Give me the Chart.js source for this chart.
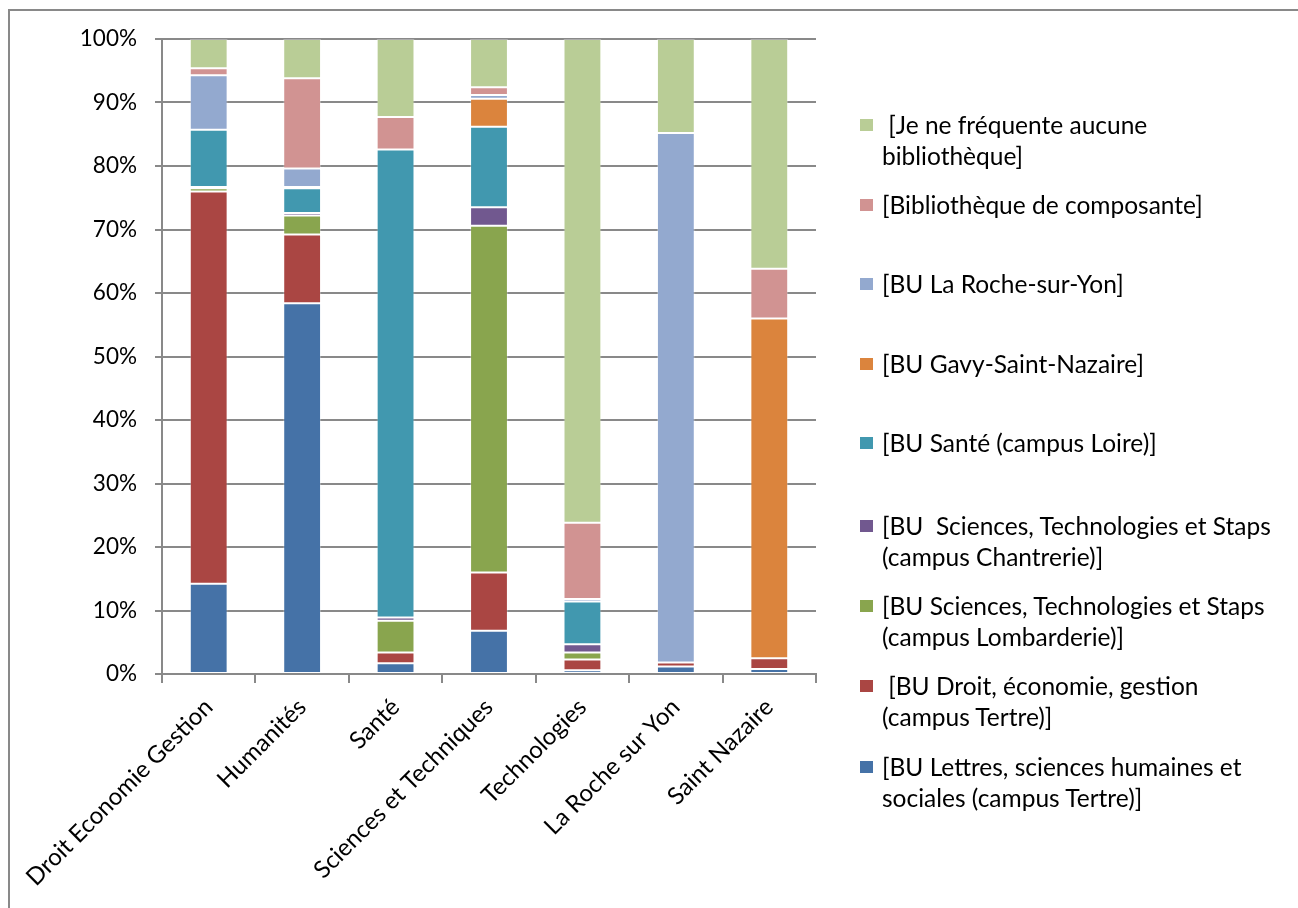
<!DOCTYPE html>
<html>
<head>
<meta charset="utf-8">
<script src="https://cdn.jsdelivr.net/npm/chart.js@4"></script>
<style>
  body { margin: 0; background: #fff; }
  #wrap { position: relative; width: 1298px; height: 908px; overflow: hidden; }
  #frame { position: absolute; left: 8px; top: 9px; right: -10px; bottom: -10px;
           border-top: 2px solid #898989; border-left: 2px solid #898989; }
  #chart { position: absolute; left: 0; top: 0; }
  #legend { position: absolute; left: 860px; top: 0; width: 430px;
            font-family: Lato, sans-serif; font-size: 24.5px; color: #000; }
  .item { position: absolute; left: 0; width: 398px; line-height: 31px; padding-left: 22px; }
  .item .sw { position: absolute; left: 0; top: 10px; width: 13px; height: 12px; }
  .item .tx { white-space: pre-wrap; }
</style>
</head>
<body>
<div id="wrap">
  <div id="frame"></div>
  <canvas id="chart" width="1298" height="908"></canvas>
  <div id="legend"></div>
</div>
<script>
const categories = ['Droit Economie Gestion', 'Humanités', 'Santé', 'Sciences et Techniques',
    'Technologies', 'La Roche sur Yon', 'Saint Nazaire'];

const seriesNames = [
    '[BU Lettres, sciences humaines et sociales (campus Tertre)]',
    ' [BU Droit, économie, gestion (campus Tertre)]',
    '[BU Sciences, Technologies et Staps (campus Lombarderie)]',
    '[BU  Sciences, Technologies et Staps (campus Chantrerie)]',
    '[BU Santé (campus Loire)]',
    '[BU Gavy-Saint-Nazaire]',
    '[BU La Roche-sur-Yon]',
    '[Bibliothèque de composante]',
    ' [Je ne fréquente aucune bibliothèque]'
];

const lettres     = [14.2, 58.4, 1.7, 6.8, 0.6, 1.2, 0.8];
const droit       = [61.8, 10.8, 1.7, 9.2, 1.7, 0.6, 1.7];
const lombarderie = [0.5, 3.0, 5.0, 54.6, 1.1, 0, 0];
const chantrerie  = [0.2, 0.4, 0.5, 2.9, 1.3, 0, 0];
const sante       = [9.0, 3.9, 73.7, 12.7, 6.7, 0, 0];
const gavy        = [0, 0.2, 0, 4.4, 0, 0, 53.5];
const larocheBU   = [8.6, 2.9, 0, 0.6, 0.4, 83.4, 0];
const composante  = [1.1, 14.2, 5.1, 1.2, 12.0, 0, 7.8];
const aucune      = [4.6, 6.2, 12.3, 7.6, 76.2, 14.8, 36.2];

const yTicks = [0, 10, 20, 30, 40, 50, 60, 70, 80, 90, 100];

const values = [lettres, droit, lombarderie, chantrerie, sante, gavy, larocheBU, composante, aucune];
const colors = ['#4572A7', '#AA4643', '#89A54E', '#71588F', '#4198AF', '#DB843D', '#93A9CF', '#D19392', '#B9CD96'];

const datasets = values.map((v, i) => ({
    label: seriesNames[i],
    data: v,
    backgroundColor: colors[i],
    borderColor: 'rgba(255,255,255,0.3)',
    borderWidth: 1,
    borderSkipped: false,
    categoryPercentage: 1,
    barPercentage: 0.405
}));

const chart = new Chart(document.getElementById('chart').getContext('2d'), {
    type: 'bar',
    data: { labels: categories, datasets: datasets },
    options: {
        responsive: false,
        animation: false,
        layout: { padding: { top: 39, right: 482, left: 0, bottom: 0 } },
        plugins: { legend: { display: false }, tooltip: { enabled: false } },
        scales: {
            x: {
                stacked: true,
                grid: { drawOnChartArea: false, drawTicks: true, tickLength: 9, color: '#898989', lineWidth: 2 },
                border: { color: '#898989', width: 2 },
                ticks: { color: '#000', font: { family: 'Lato, sans-serif', size: 24 },
                         minRotation: 45, maxRotation: 45, autoSkip: false, padding: 10 },
                afterFit: s => { s.height = 908 - 674; }
            },
            y: {
                stacked: true,
                min: 0, max: 100,
                afterBuildTicks: s => { s.ticks = yTicks.map(v => ({ value: v })); },
                grid: { color: '#898989', lineWidth: 2, tickLength: 7 },
                border: { color: '#898989', width: 2 },
                ticks: { color: '#000', font: { family: 'Lato, sans-serif', size: 22.5 },
                         padding: 18, callback: v => v + '%' },
                afterFit: s => { s.width = 162; }
            }
        }
    }
});

// legend, listed top to bottom in reverse stacking order
const legend = document.getElementById('legend');
const tops = [109, 189, 268, 348, 427, 510, 590, 670, 751];
chart.data.datasets.slice().reverse().forEach((ds, i) => {
    const item = document.createElement('div');
    item.className = 'item';
    item.style.top = tops[i] + 'px';
    item.innerHTML = '<span class="sw" style="background:' + ds.backgroundColor + '"></span><span class="tx"></span>';
    item.querySelector('.tx').textContent = ds.label;
    legend.appendChild(item);
});
</script>
</body>
</html>
